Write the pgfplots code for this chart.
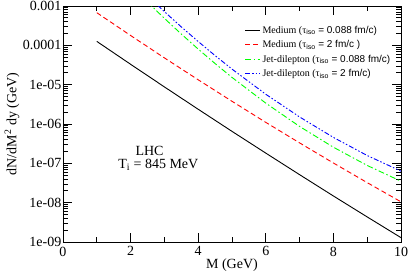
\documentclass[border=0pt]{standalone}
\usepackage{fontspec}
\setmainfont{Liberation Serif}
\newfontfamily\hv{Liberation Sans}
\usepackage{pgfplots}
\pgfplotsset{compat=1.18}
\definecolor{xgreen}{RGB}{0,255,0}
\definecolor{xblue}{RGB}{0,0,255}
\definecolor{xred}{RGB}{255,0,0}
\begin{document}
\begin{tikzpicture}
\useasboundingbox (-63bp,-31bp) rectangle (347bp,242bp);
\begin{axis}[
  scale only axis,
  width=338bp, height=236bp,
  xmin=0, xmax=10,
  ymode=log, ymin=1e-9, ymax=1e-3,
  xtick={0,2,4,6,8,10},
  xticklabels={0,2,4,6,8,10},
  minor xtick={1,3,5,7,9},
  ytick={1e-9,1e-8,1e-7,1e-6,1e-5,1e-4,1e-3},
  yticklabels={1e-09,1e-08,1e-07,1e-06,1e-05,0.0001,0.001},
  tick align=inside,
  major tick length=9bp,
  minor tick length=5bp,
  every tick/.style={black, line width=0.8bp},
  axis line style={line width=0.9bp},
  tick label style={font=\fontsize{14bp}{16bp}\selectfont},
  yticklabel style={inner sep=1.5bp},
  xticklabel style={inner sep=4.5bp},
  xlabel={M (GeV)},
  ylabel={dN/dM\textsuperscript{2} dy (GeV)},
  label style={font=\fontsize{14bp}{16bp}\selectfont},
  xlabel style={at={(axis description cs:0.5,-0.0975)}, anchor=center},
  ylabel style={at={(axis description cs:-0.151,0.5)}, anchor=center},
  legend style={draw=none, fill=none, at={(rel axis cs:0.537,0.925)}, anchor=north west,
    font=\fontsize{10bp}{11.5bp}\selectfont, row sep=1.8bp, inner sep=0pt},
  legend cell align=left,
  legend image code/.code={\draw[#1] (0bp,0bp) -- (15bp,0bp);},
]
\addplot[black, line width=0.9bp] coordinates {
(1,1.26e-4) (2,3.30e-5) (3,8.77e-6) (4,2.37e-6) (5,6.50e-7)
(6,1.82e-7) (7,5.15e-8) (8,1.48e-8) (9,4.34e-9) (10,1.29e-9)};
\addlegendentry{Medium (τ\textsubscript{\hv iso} {\hv = 0.088 fm/c)}}
\addplot[xred, line width=0.9bp, dash pattern=on 5bp off 3bp] coordinates {
(1,6.76e-4) (2,1.78e-4) (3,4.80e-5) (4,1.33e-5) (5,3.78e-6)
(6,1.10e-6) (7,3.31e-7) (8,1.02e-7) (9,3.23e-8) (10,1.05e-8)};
\addlegendentry{Medium (τ\textsubscript{\hv iso} {\hv = 2 fm/c )}}
\addplot[xgreen, line width=0.9bp, dash pattern=on 6bp off 2.5bp on 1.5bp off 2.5bp] coordinates {
(2.5,1.26e-3) (3,4.85e-4) (3.5,1.94e-4) (4,8.02e-5) (4.5,3.44e-5) (5,1.53e-5)
(6,3.39e-6) (7,8.67e-7) (8,2.57e-7) (9,8.83e-8) (10,3.51e-8)};
\addlegendentry{Jet-dilepton (τ\textsubscript{\hv iso} {\hv = 0.088 fm/c)}}
\addplot[xblue, line width=0.9bp, dash pattern=on 5bp off 2bp on 1.5bp off 2bp on 1.5bp off 2bp] coordinates {
(2.5,1.82e-3) (3,7.19e-4) (3.5,2.94e-4) (4,1.25e-4) (4.5,5.48e-5) (5,2.49e-5)
(6,5.71e-6) (7,1.51e-6) (8,4.56e-7) (9,1.58e-7) (10,6.34e-8)};
\addlegendentry{Jet-dilepton (τ\textsubscript{\hv iso} {\hv = 2 fm/c)}}
\node[font=\fontsize{14bp}{16bp}\selectfont, anchor=base] at (axis cs:2.56,1.6e-7) {LHC};
\node[font=\fontsize{14bp}{16bp}\selectfont, anchor=base] at (axis cs:2.82,7.3e-8) {T\textsubscript{i} = 845 MeV};
\end{axis}
\end{tikzpicture}
\end{document}
